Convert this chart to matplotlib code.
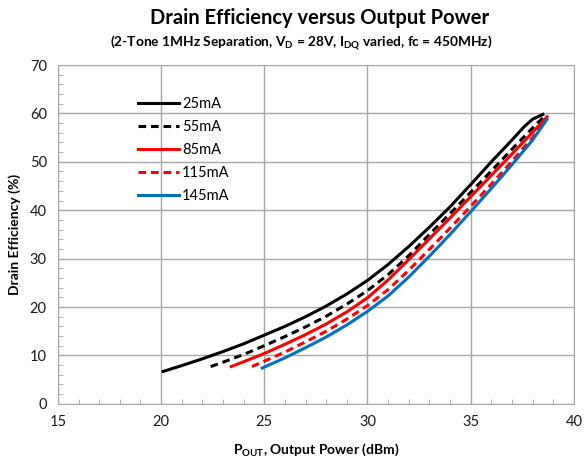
import matplotlib.pyplot as plt
from matplotlib.ticker import MultipleLocator

plt.rcParams['font.family'] = ['Lato', 'DejaVu Sans']
plt.rcParams['mathtext.fontset'] = 'custom'
plt.rcParams['mathtext.rm'] = 'Lato'
plt.rcParams['mathtext.bf'] = 'Lato:bold'

# Data (Pout dBm, drain efficiency %)
p_25 = [20.1, 21, 22, 23, 24, 25, 26, 27, 28, 29, 30, 31, 32, 33, 34, 35, 36, 37, 37.6, 38.0, 38.2, 38.5]
e_25 = [6.7, 7.9, 9.3, 10.8, 12.4, 14.2, 16.0, 18.0, 20.2, 22.7, 25.5, 28.8, 32.5, 36.5, 40.7, 45.3, 50.0, 54.5, 57.3, 58.8, 59.2, 59.8]

p_55 = [22.4, 23, 24, 25, 26, 27, 28, 29, 30, 31, 32, 33, 34, 35, 36, 37, 38, 38.6]
e_55 = [7.7, 8.6, 10.2, 12.0, 13.9, 15.9, 18.1, 20.6, 23.4, 26.7, 30.6, 35.0, 39.3, 43.7, 48.1, 52.6, 57.0, 59.5]

p_85 = [23.4, 24, 25, 26, 27, 28, 29, 30, 31, 32, 33, 34, 35, 36, 37, 38, 38.7]
e_85 = [7.7, 8.7, 10.4, 12.3, 14.3, 16.5, 19.0, 21.9, 25.6, 29.8, 34.1, 38.4, 42.8, 47.2, 51.6, 56.1, 59.3]

p_115 = [24.4, 25, 26, 27, 28, 29, 30, 31, 32, 33, 34, 35, 36, 37, 38, 38.7]
e_115 = [7.7, 8.8, 10.7, 12.8, 15.0, 17.5, 20.3, 23.6, 27.6, 31.9, 36.3, 40.8, 45.4, 50.1, 55.0, 59.0]

p_145 = [24.9, 26, 27, 28, 29, 30, 31, 32, 33, 34, 35, 36, 37, 38, 38.7]
e_145 = [7.4, 9.5, 11.6, 13.8, 16.3, 19.1, 22.3, 26.2, 30.5, 35.0, 39.7, 44.5, 49.4, 54.5, 58.8]

fig = plt.figure(figsize=(5.85, 4.61), dpi=100)
ax = fig.add_axes([0.099, 0.124, 0.882, 0.735])

lw = 2.2
dash = (0, (2.5, 1.6))
ax.plot(p_25, e_25, color='black', lw=lw, label='25mA')
ax.plot(p_55, e_55, color='black', lw=lw, linestyle=dash, label='55mA')
ax.plot(p_85, e_85, color='#ff0000', lw=lw, label='85mA')
ax.plot(p_115, e_115, color='#ff0000', lw=lw, linestyle=dash, label='115mA')
ax.plot(p_145, e_145, color='#0070c0', lw=lw, label='145mA')

ax.set_xlim(15, 40)
ax.set_ylim(0, 70)
ax.xaxis.set_major_locator(MultipleLocator(5))
ax.yaxis.set_major_locator(MultipleLocator(10))
ax.xaxis.set_minor_locator(MultipleLocator(1))
ax.yaxis.set_minor_locator(MultipleLocator(2))
ax.grid(True, which='major', color='#a6a6a6', lw=1)
ax.set_axisbelow(True)
for s in ax.spines.values():
    s.set_color('#a6a6a6')
ax.tick_params(which='major', length=0, labelsize=10.5, pad=8, colors='#1a1a1a')
ax.tick_params(which='minor', direction='in', length=3.5, color='#a6a6a6')

ax.set_xlabel(r'P$_\mathregular{OUT}$, Output Power (dBm)', fontsize=10, fontweight='bold', labelpad=9)
ax.set_ylabel('Drain Efficiency (%)', fontsize=10, fontweight='bold', labelpad=6)

fig.text(0.547, 0.962, 'Drain Efficiency versus Output Power', ha='center', va='center',
         fontsize=14.5, fontweight='bold')
fig.text(0.515, 0.908,
         r'(2-Tone 1MHz Separation, V$_\mathbf{D}$ = 28V, I$_\mathbf{DQ}$ varied, fc = 450MHz)',
         ha='center', va='center', fontsize=9.9, fontweight='bold')

ax.legend(loc='upper left', bbox_to_anchor=(0.13, 0.945), frameon=False, fontsize=10.5,
          handlelength=2.8, handletextpad=0.2, labelspacing=0.62)

fig.savefig('out.png', dpi=100)
